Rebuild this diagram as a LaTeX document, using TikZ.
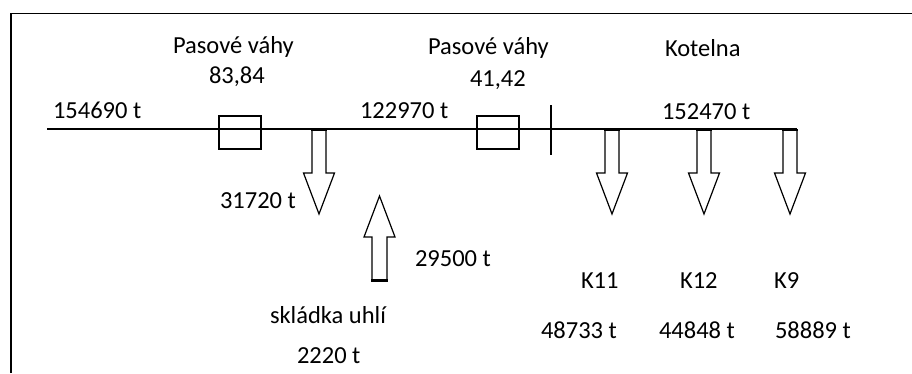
\documentclass[tikz,border=0pt]{standalone}
\usepackage{fontspec}
\setmainfont{Carlito}
\begin{document}
\begin{tikzpicture}[x=1pt,y=-1pt,
  lbl/.style={anchor=base west,inner sep=0pt,outer sep=0pt,font=\fontsize{24.5}{28}\selectfont,text=black},
  frameline/.style={line width=1.8pt,black},
  mainline/.style={line width=1.6pt},
  scalebox/.style={draw,line width=1.5pt,minimum width=42pt,minimum height=33pt,inner sep=0pt},
  flowarrow/.style={draw,line width=1.2pt,line join=miter},
  arrowbase/.style={line width=2.6pt}]
\useasboundingbox (0,0) rectangle (912,373);
% frame
\draw[frameline] (11,373) -- (11,13.5) -- (912,13.5);
% main conveyor line
\coordinate (L) at (47,129);
\coordinate (R) at (797,129);
\draw[mainline] (L) -- (R);
% belt scales
\node[scalebox] (box1) at (240,132.5) {};
\node[scalebox] (box2) at (498,132.5) {};
% separator tick
\coordinate (tickT) at (551,105);
\coordinate (tickB) at (551,155);
\draw[line width=1.5pt] (tickT) -- (tickB);
% down arrows
\foreach \cx in {319,612,704,790}{
  \draw[flowarrow] (\cx-7,129) -- (\cx-7,173) -- (\cx-15.5,173) -- (\cx,214)
     -- (\cx+15.5,173) -- (\cx+7,173) -- (\cx+7,129);
  \draw[arrowbase] (\cx-7.6,130) -- (\cx+7.6,130);
}
% up arrow
\draw[flowarrow] (372,281) -- (372,237) -- (364,237) -- (379.5,196) -- (395,237)
   -- (387,237) -- (387,281);
\draw[arrowbase] (371.4,280.5) -- (387.6,280.5);
% labels
\node[lbl] (pv1) at (173,53) {Pasové váhy};
\node[lbl] (w1) at (209,83) {83,84};
\node[lbl] (pv2) at (428,54) {Pasové váhy};
\node[lbl] (w2) at (470,86) {41,42};
\node[lbl] (kot) at (665,56) {Kotelna};
\node[lbl] (t1) at (53,118) {154690 t};
\node[lbl] (t2) at (360,118) {122970 t};
\node[lbl] (t3) at (662,119) {152470 t};
\node[lbl] (t4) at (220,208) {31720 t};
\node[lbl] (t5) at (415,266) {29500 t};
\node[lbl] (sk) at (270,323) {skládka uhlí};
\node[lbl] (t6) at (297,363) {2220 t};
\node[lbl] (k11) at (581,288) {K11};
\node[lbl] (k12) at (680,288) {K12};
\node[lbl] (k9) at (774,288) {K9};
\node[lbl] (t7) at (541,338) {48733 t};
\node[lbl] (t8) at (659,338) {44848 t};
\node[lbl] (t9) at (775,338) {58889 t};
\end{tikzpicture}
\end{document}
